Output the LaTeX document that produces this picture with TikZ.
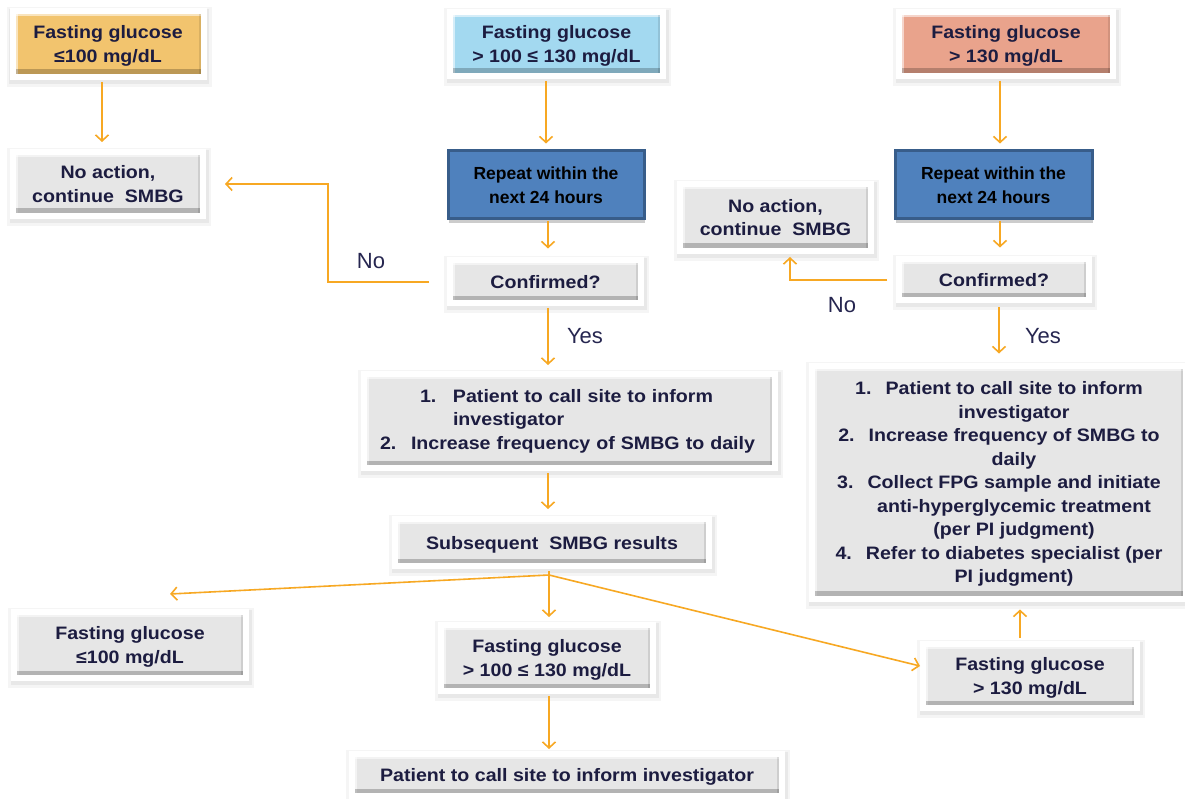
\documentclass[tikz,border=0pt]{standalone}
\usepackage{fontspec}
\setmainfont{Liberation Sans}
\newfontfamily\widefont{Liberation Sans}[FakeStretch=1.09]
\usetikzlibrary{arrows.meta,shadows,calc}
\definecolor{yel}{HTML}{F2C46E}
\definecolor{lblue}{HTML}{A3D9F0}
\definecolor{salm}{HTML}{E9A38C}
\definecolor{rfill}{HTML}{4F81BD}
\definecolor{rborder}{HTML}{385D8A}
\definecolor{boxgray}{HTML}{E6E6E6}
\definecolor{orng}{HTML}{F7A823}
\definecolor{txt}{HTML}{1C1C40}
\definecolor{lbl}{HTML}{262650}
\begin{document}
\begin{tikzpicture}[x=1pt,y=-1pt,
  gbox/.style={rectangle, inner sep=0pt, draw=white, line width=6pt, fill=boxgray,
    preaction={draw=black!4, line width=14pt, transform canvas={xshift=1pt,yshift=-3pt}},
    preaction={draw=black!9, line width=9pt, transform canvas={xshift=1pt,yshift=-2.5pt}},
    text=txt, font=\widefont\bfseries\fontsize{18}{23.5}\selectfont, align=center, text depth=0pt,
    path picture={
      \fill[white,opacity=0.55] (path picture bounding box.north west) rectangle ([yshift=-5pt]path picture bounding box.north east);
      \fill[white,opacity=0.55] (path picture bounding box.north west) rectangle ([xshift=5pt]path picture bounding box.south west);
      \fill[black,opacity=0.1] (path picture bounding box.north east) rectangle ([xshift=-5pt]path picture bounding box.south east);
      \fill[black,opacity=0.22] (path picture bounding box.south west) rectangle ([yshift=7.5pt]path picture bounding box.south east);}},
  rbox/.style={rectangle, inner sep=0pt, draw=rborder, line width=3pt, fill=rfill,
    drop shadow={shadow xshift=1pt, shadow yshift=-4pt, opacity=0.2, fill=black},
    text=black, font=\bfseries\fontsize{17.5}{24}\selectfont, align=center},
  arr/.style={draw=orng, line width=1.6pt, -{Straight Barb[length=6pt,width=13pt]}},
  ln/.style={draw=orng, line width=1.6pt},
  lab/.style={text=lbl, font=\fontsize{22}{26}\selectfont, inner sep=0pt}
]
\useasboundingbox[fill=white] (0,0) rectangle (1185,799);

% top row
\node[gbox, fill=yel, minimum width=191pt, minimum height=66pt] (A1) at (108,44) {Fasting glucose\\≤100 mg/dL};
\node[gbox, fill=lblue, minimum width=213pt, minimum height=64pt] (B1) at (556.5,44) {Fasting glucose\\> 100 ≤ 130 mg/dL};
\node[gbox, fill=salm, minimum width=214pt, minimum height=64pt] (C1) at (1006,44) {Fasting glucose\\> 130 mg/dL};

% second row
\node[gbox, minimum width=190pt, minimum height=64pt] (N1) at (108,184) {No action,\\continue\ \ SMBG};
\node[rbox, minimum width=196pt, minimum height=68pt] (R1) at (546,185) {Repeat within the\\next 24 hours};
\node[rbox, minimum width=197pt, minimum height=68pt] (R2) at (993.5,185) {Repeat within the\\next 24 hours};
\node[gbox, minimum width=191pt, minimum height=67pt] (N2) at (775.5,217.5) {No action,\\continue\ \ SMBG};

% confirmed
\node[gbox, minimum width=191pt, minimum height=43pt] (Q1) at (545.5,282) {Confirmed?};
\node[gbox, minimum width=190pt, minimum height=41pt] (Q2) at (994,280) {Confirmed?};

% lists
\node[gbox, text depth={}, minimum width=411pt, minimum height=94pt, align=left, text width=405pt] (L1) at (569.5,421)
 {\hspace*{53pt}\makebox[33pt][l]{1.}Patient to call site to inform\\
  \hspace*{86pt}investigator\\
  \hspace*{13pt}\makebox[31pt][l]{2.}Increase frequency of SMBG to daily};
\node[gbox, minimum width=374pt, minimum height=233pt] (L2) at (999,482)
 {1.\hspace{14pt}Patient to call site to inform\\
  \hspace*{30pt}investigator\\
  2.\hspace{14pt}Increase frequency of SMBG to\\
  \hspace*{30pt}daily\\
  3.\hspace{14pt}Collect FPG sample and initiate\\
  \hspace*{30pt}anti-hyperglycemic treatment\\
  \hspace*{30pt}(per PI judgment)\\
  4.\hspace{14pt}Refer to diabetes specialist (per\\
  \hspace*{30pt}PI judgment)};

\node[gbox, minimum width=314pt, minimum height=47pt] (S1) at (552,542.5) {Subsequent\ \ SMBG results};

% bottom
\node[gbox, minimum width=232pt, minimum height=66pt] (F1) at (130,645) {Fasting glucose\\≤100 mg/dL};
\node[gbox, minimum width=212pt, minimum height=66pt] (F2) at (547,658) {Fasting glucose\\> 100 ≤ 130 mg/dL};
\node[gbox, minimum width=214pt, minimum height=64pt] (F3) at (1030,676) {Fasting glucose\\> 130 mg/dL};
\node[gbox, minimum width=430pt, minimum height=42pt] (P1) at (567,775) {Patient to call site to inform investigator};

% labels
\node[lab] (no1) at (371,261) {No};
\node[lab] (no2) at (842,305) {No};
\node[lab] (yes1) at (585,336) {Yes};
\node[lab] (yes2) at (1043,336) {Yes};

% coordinates
\coordinate (k1) at (328,184);
\coordinate (J) at (549,575);

% connectors
\draw[arr, shorten <=2pt, shorten >=7pt] ([xshift=-6pt]A1.south) -- ([xshift=-6pt]N1.north);
\draw[arr, shorten <=2pt, shorten >=6pt] (B1.south -| R1.north) -- (R1.north);
\draw[arr, shorten <=2pt, shorten >=6pt] ([xshift=-6pt]C1.south) -- ([xshift=6.5pt]R2.north);
\draw[arr, shorten <=1pt, shorten >=9pt] ([xshift=2pt]R1.south) -- ([xshift=2.5pt]Q1.north);
\draw[arr, shorten <=1pt, shorten >=9pt] ([xshift=6.5pt]R2.south) -- ([xshift=6pt]Q2.north);
\draw[arr, shorten <=18pt, shorten >=19pt] (Q1.west) -| (k1) -- (N1.east);
\draw[arr, shorten <=9pt, shorten >=3pt] (Q2.west) -| ([xshift=14.5pt]N2.south);
\draw[arr, shorten <=2pt, shorten >=6pt] ([xshift=2.5pt]Q1.south) -- ([xshift=2.5pt]Q1.south |- L1.north);
\draw[arr, shorten <=4pt, shorten >=9pt] (Q2.south -| L2.north) -- (L2.north);
\draw[arr, shorten <=2pt, shorten >=7pt] ([xshift=-4pt]S1.north |- L1.south) -- ([xshift=-4pt]S1.north);
\draw[ln, shorten <=2pt] (S1.south -| J) -- (J);
\draw[arr] (J) -- ([xshift=40pt,yshift=15pt]F1.north);
\draw[arr, shorten >=5pt] (J) -- (J |- F2.north);
\draw[arr] (J) -- ([yshift=10pt]F3.west);
\draw[arr, shorten <=3pt, shorten >=8pt] ([xshift=-10pt]F3.north) -- ([xshift=-10pt]F3.north |- L2.south);
\draw[arr, shorten <=2pt, shorten >=2pt] (F2.south -| J) -- (J |- P1.north);
\end{tikzpicture}
\end{document}
